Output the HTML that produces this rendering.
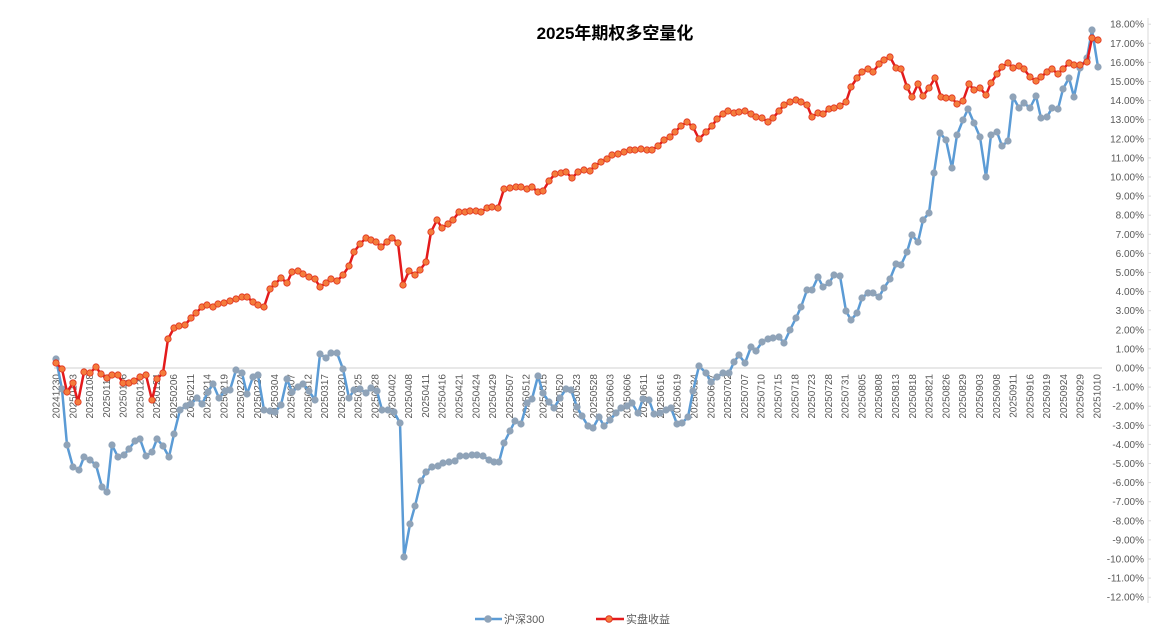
<!DOCTYPE html>
<html><head><meta charset="utf-8"><style>
html,body{margin:0;padding:0;background:#fff;}
svg{display:block;font-family:"Liberation Sans","Noto Sans CJK SC",sans-serif;}
</style></head><body>
<svg id="c" width="1151" height="630" xmlns="http://www.w3.org/2000/svg">
<rect width="1151" height="630" fill="#fff"/>
<text x="615" y="39" text-anchor="middle" font-size="17" font-weight="bold" fill="#000" font-family="Liberation Sans, Noto Sans CJK SC, sans-serif">2025年期权多空量化</text>
<line x1="1148" y1="18" x2="1148" y2="603" stroke="#d9d9d9" stroke-width="1"/>
<line x1="54" y1="368" x2="1102" y2="368" stroke="#d0d0d0" stroke-width="1"/>
<g id="yl" font-size="10" fill="#595959" text-anchor="end"></g>
<g id="xl" font-size="10" fill="#595959"></g>
<g id="s"></g>
<g>
<line x1="475" y1="619" x2="502" y2="619" stroke="#5b9bd5" stroke-width="2.5"/>
<circle cx="488" cy="619" r="3.3" fill="#8fa3b8" stroke="#8fa3b8"/>
<text x="504" y="623" font-size="11" fill="#595959">沪深300</text>
<line x1="596" y1="619" x2="624" y2="619" stroke="#e31a1c" stroke-width="2.5"/>
<circle cx="609" cy="619" r="3.3" fill="#f47c3c" stroke="#e0301e"/>
<text x="626" y="623" font-size="11" fill="#595959">实盘收益</text>
</g>
</svg>
<script>
var NS="http://www.w3.org/2000/svg";
function el(t,a,p,txt){var e=document.createElementNS(NS,t);for(var k in a)e.setAttribute(k,a[k]);if(txt!=null)e.textContent=txt;p.appendChild(e);return e;}
var yl=document.getElementById('yl');
for(var v=18;v>=-12;v--){var y=368-v*19.1;el('text',{x:1144,y:y+3.5},yl,v.toFixed(2)+'%');el('line',{x1:1148,y1:y,x2:1151,y2:y,stroke:'#d9d9d9'},yl);}
var labs="20241230 20250103 20250108 20250113 20250116 20250121 20250124 20250206 20250211 20250214 20250219 20250224 20250227 20250304 20250307 20250312 20250317 20250320 20250325 20250328 20250402 20250408 20250411 20250416 20250421 20250424 20250429 20250507 20250512 20250515 20250520 20250523 20250528 20250603 20250606 20250611 20250616 20250619 20250624 20250627 20250702 20250707 20250710 20250715 20250718 20250723 20250728 20250731 20250805 20250808 20250813 20250818 20250821 20250826 20250829 20250903 20250908 20250911 20250916 20250919 20250924 20250929 20251010".split(' ');
var xl=document.getElementById('xl');
for(var i=0;i<labs.length;i++){var x=56+i*(1041/62)+3.5;el('text',{x:0,y:0,transform:'translate('+x+',374) rotate(-90)','text-anchor':'end'},xl,labs[i]);}
var blue=[[56,359],[62,389],[67,445],[73,467],[79,470],[84,457],[90,460],[96,465],[102,487],[107,492],[112,445],[118,457],[124,455],[129,449],[135,441],[140,439],[146,456],[152,452],[157,439],[163,446],[169,457],[174,434],[180,410],[186,406],[191,404],[197,398],[202,404],[208,392],[213,384],[219,398],[225,391],[230,390],[236,370],[242,373],[247,394],[253,377],[258,375],[264,410],[270,411],[275,412],[281,405],[287,379],[292,392],[298,387],[303,384],[309,391],[315,400],[320,354],[326,358],[331,353],[337,353],[343,369],[349,398],[354,390],[360,389],[366,393],[371,388],[377,391],[382,410],[388,410],[394,412],[400,423],[404,557],[410,524],[415,506],[421,481],[426,472],[432,467],[438,466],[443,463],[449,462],[455,461],[460,456],[466,456],[472,455],[477,455],[483,456],[489,460],[494,462],[499,462],[504,443],[510,431],[515,421],[521,424],[527,403],[532,399],[538,376],[543,393],[549,402],[554,408],[560,398],[566,389],[571,390],[577,407],[582,416],[588,426],[593,428],[599,417],[604,426],[610,420],[616,413],[621,408],[627,406],[632,403],[638,413],[643,399],[649,400],[654,414],[660,413],[666,410],[671,408],[677,424],[682,423],[688,417],[693,391],[699,366],[706,373],[711,382],[717,377],[723,373],[729,373],[734,362],[739,355],[745,363],[751,347],[756,351],[762,342],[768,339],[773,338],[779,337],[784,343],[790,330],[796,318],[801,307],[807,290],[812,290],[818,277],[823,287],[829,283],[834,275],[840,276],[846,311],[851,320],[857,313],[862,298],[868,293],[873,293],[879,297],[884,288],[890,279],[896,264],[901,265],[907,252],[912,235],[918,242],[923,220],[929,213],[934,173],[940,133],[946,140],[952,168],[957,135],[963,120],[968,109],[974,123],[980,137],[986,177],[991,135],[997,132],[1002,146],[1008,141],[1013,97],[1019,108],[1024,103],[1030,108],[1036,96],[1041,118],[1047,117],[1052,108],[1058,109],[1063,89],[1069,78],[1074,97],[1080,68],[1087,58],[1092,30],[1098,67]];
var red=[[56,363],[62,369],[67,392],[73,383],[78,402],[84,372],[90,373],[96,367],[101,374],[107,378],[112,375],[118,375],[123,383],[129,383],[134,381],[140,377],[146,375],[152,400],[157,379],[163,373],[168,339],[174,328],[179,326],[185,325],[191,318],[196,313],[202,307],[207,305],[213,307],[218,304],[224,303],[230,301],[236,299],[242,297],[247,297],[253,302],[258,305],[264,307],[270,289],[275,284],[281,278],[287,283],[292,272],[298,271],[303,274],[309,277],[315,279],[320,287],[326,283],[331,279],[337,281],[343,275],[349,266],[354,252],[360,244],[366,238],[371,240],[376,242],[381,247],[387,242],[392,238],[398,243],[403,285],[409,271],[415,275],[420,270],[426,262],[431,232],[437,220],[442,228],[448,224],[453,220],[459,212],[465,212],[470,211],[476,211],[481,212],[487,208],[492,207],[498,208],[504,189],[510,188],[516,187],[521,187],[527,189],[532,187],[538,192],[543,191],[549,181],[555,174],[561,173],[566,172],[572,178],[578,172],[584,170],[590,171],[595,166],[601,162],[607,159],[612,155],[618,154],[624,152],[630,150],[635,150],[641,149],[647,150],[652,150],[658,146],[664,140],[670,137],[675,132],[681,126],[687,122],[693,127],[699,139],[706,132],[712,126],[717,119],[723,114],[728,111],[734,113],[739,112],[745,111],[751,114],[756,117],[762,118],[768,122],[773,118],[779,111],[784,105],[790,102],[796,100],[801,102],[807,105],[812,117],[818,113],[823,114],[829,109],[834,108],[840,106],[846,102],[851,87],[857,78],[862,72],[868,69],[873,72],[879,64],[884,60],[890,57],[896,68],[901,69],[907,87],[912,97],[918,84],[923,96],[929,88],[935,78],[941,97],[946,98],[952,98],[957,104],[963,101],[969,84],[974,90],[980,88],[986,95],[991,83],[997,74],[1002,67],[1008,63],[1013,68],[1019,66],[1024,69],[1030,77],[1036,81],[1041,77],[1047,72],[1052,69],[1058,74],[1063,69],[1069,63],[1074,65],[1080,65],[1087,62],[1092,38],[1098,40]];
var s=document.getElementById('s');
function series(d,lc,mf,ms){el('polyline',{points:d.map(function(p){return p.join(',')}).join(' '),fill:'none',stroke:lc,'stroke-width':2.5,'stroke-linejoin':'round'},s);
d.forEach(function(p){el('circle',{cx:p[0],cy:p[1],r:3.2,fill:mf,stroke:ms,'stroke-width':0.8},s);});}
series(blue,'#5b9bd5','#8fa3b8','#8fa3b8');
series(red,'#e31a1c','#f47c3c','#e0301e');
</script>
</body></html>
